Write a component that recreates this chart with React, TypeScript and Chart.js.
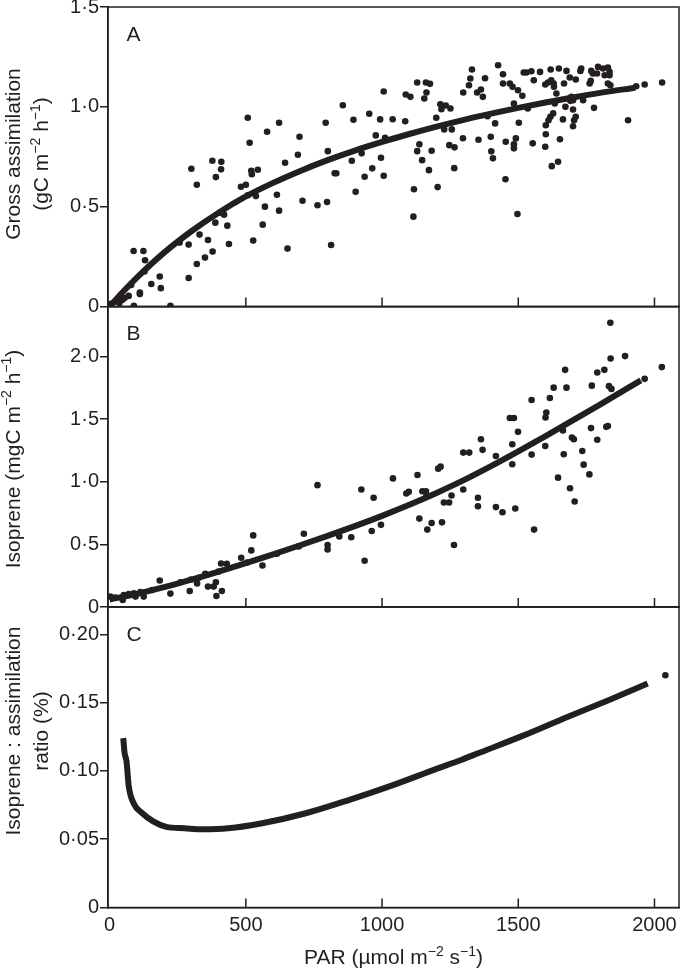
import React, { useEffect, useRef } from 'react';
import { Chart, registerables } from 'chart.js';

Chart.register(...registerables);

// ---------- tick values ----------
const parTicks = [0, 500, 1000, 1500, 2000];
const assimTicks = [0, 0.5, 1.0, 1.5];
const isoTicks = [0, 0.5, 1.0, 1.5, 2.0];
const ratioTicks = [0, 0.05, 0.1, 0.15, 0.2];

// ---------- panel A: gross assimilation (scatter) ----------
const assimPAR = [
  3, 22, 36, 46, 55, 70, 79, 89, 111, 111, 124, 88, 130, 128, 153, 184, 188, 223, 257, 290,
  290, 300, 320, 320, 330, 350, 361, 377, 378, 388, 390, 405, 409, 410, 420, 432, 438, 482, 500, 507,
  507, 514, 520, 522, 527, 537, 544, 562, 570, 578, 614, 622, 622, 644, 653, 691, 697, 708, 763, 793,
  798, 801, 813, 826, 832, 856, 889, 895, 903, 925, 936, 953, 964, 977, 993, 996, 1006, 1006, 1011, 1039,
  1085, 1087, 1104, 1115, 1117, 1129, 1129, 1137, 1147, 1155, 1161, 1163, 1172, 1176, 1182, 1199, 1204, 1214, 1218, 1228,
  1234, 1247, 1251, 1256, 1265, 1266, 1297, 1298, 1319, 1324, 1330, 1349, 1354, 1363, 1370, 1378, 1387, 1399, 1401, 1407,
  1415, 1426, 1444, 1444, 1453, 1454, 1469, 1479, 1484, 1484, 1484, 1491, 1497, 1499, 1502, 1515, 1520, 1530, 1535, 1548,
  1553, 1557, 1580, 1599, 1599, 1601, 1601, 1609, 1611, 1618, 1619, 1621, 1623, 1628, 1630, 1631, 1634, 1640, 1646, 1649,
  1653, 1664, 1668, 1673, 1677, 1689, 1691, 1695, 1701, 1701, 1701, 1705, 1711, 1711, 1728, 1731, 1738, 1762, 1766, 1768,
  1774, 1778, 1789, 1793, 1811, 1817, 1829, 1829, 1835, 1835, 1838, 1903, 1933, 1964, 2028,
];
const assimValues = [
  0.013, 0.025, 0.017, 0.033, 0.042, 0.053, 0.108, 0.004, 0.07, 0.062, 0.278, 0.278, 0.232, 0.175, 0.113, 0.15, 0.092, 0.004, 0.32, 0.31,
  0.143, 0.69, 0.61, 0.213, 0.36, 0.245, 0.333, 0.73, 0.275, 0.42, 0.648, 0.47, 0.687, 0.725, 0.46, 0.405, 0.313, 0.6, 0.61, 0.945,
  0.557, 0.82, 0.68, 0.662, 0.33, 0.553, 0.685, 0.41, 0.5, 0.875, 0.56, 0.92, 0.48, 0.72, 0.29, 0.76, 0.85, 0.53, 0.507, 0.92,
  0.523, 0.778, 0.308, 0.667, 0.667, 1.008, 0.73, 0.935, 0.575, 0.767, 0.65, 0.965, 0.692, 0.857, 0.937, 0.745, 1.077, 0.655, 0.845, 0.938,
  0.928, 1.062, 1.05, 0.45, 0.587, 1.122, 0.778, 0.812, 0.733, 1.042, 1.122, 1.072, 0.683, 1.115, 0.78, 0.945, 0.598, 1.013, 0.988, 0.887,
  1.007, 0.808, 0.992, 0.887, 0.693, 0.797, 0.843, 1.072, 1.108, 1.142, 1.187, 1.072, 0.835, 1.087, 1.05, 1.143, 0.953, 0.85, 0.777, 0.742,
  0.917, 1.208, 1.163, 1.117, 0.637, 0.825, 1.117, 1.1, 1.017, 0.812, 0.792, 0.842, 0.463, 1.083, 0.92, 1.055, 1.172, 1.172, 0.992, 1.178,
  0.817, 1.133, 1.175, 1.112, 0.8, 0.908, 0.863, 1.122, 0.933, 0.95, 1.187, 1.133, 0.703, 0.967, 1.117, 1.1, 1.017, 1.067, 0.725, 1.192,
  0.838, 0.937, 1.117, 1.0, 1.18, 1.147, 1.03, 1.05, 1.033, 0.987, 0.903, 0.933, 1.137, 0.95, 1.18, 1.192, 1.033, 1.117, 1.13, 1.18,
  1.167, 0.995, 1.167, 1.2, 1.192, 1.158, 1.197, 1.117, 1.175, 1.158, 1.108, 0.933, 1.103, 1.112, 1.122,
];
// fitted curve
const assimFitPAR = [0, 50, 100, 200, 300, 400, 500, 600, 700, 800, 900, 1000, 1100, 1200, 1300, 1400, 1500, 1600, 1700, 1800, 1930];
const assimFitValues = [0, 0.075, 0.145, 0.27, 0.377, 0.47, 0.551, 0.619, 0.679, 0.733, 0.781, 0.824, 0.864, 0.901, 0.935, 0.966, 0.995, 1.022, 1.047, 1.07, 1.096];

// ---------- panel B: isoprene (scatter) ----------
const isoPAR = [
  3, 21, 48, 52, 70, 89, 95, 113, 125, 156, 184, 223, 260, 294, 299, 321, 327, 351, 361, 382,
  390, 392, 400, 409, 412, 430, 483, 504, 520, 527, 561, 614, 694, 713, 763, 800, 800, 843, 887, 924,
  936, 962, 969, 996, 1040, 1089, 1098, 1130, 1137, 1148, 1161, 1163, 1166, 1182, 1206, 1215, 1220, 1227, 1246, 1255,
  1264, 1298, 1298, 1320, 1352, 1352, 1363, 1369, 1418, 1418, 1442, 1469, 1484, 1478, 1478, 1489, 1499, 1549, 1549, 1558,
  1599, 1600, 1603, 1616, 1630, 1646, 1664, 1667, 1672, 1677, 1690, 1697, 1704, 1707, 1735, 1740, 1761, 1767, 1770, 1790,
  1790, 1816, 1823, 1829, 1833, 1842, 1839, 1892, 1838, 1964, 2027,
];
const isoValues = [
  0.083, 0.075, 0.056, 0.096, 0.104, 0.11, 0.083, 0.12, 0.083, 0.136, 0.212, 0.107, 0.197, 0.128, 0.22, 0.188, 0.233, 0.265, 0.163, 0.163,
  0.198, 0.088, 0.283, 0.348, 0.128, 0.345, 0.393, 0.356, 0.452, 0.572, 0.331, 0.425, 0.484, 0.585, 0.973, 0.495, 0.46, 0.564, 0.557, 0.939,
  0.369, 0.607, 0.872, 0.656, 1.027, 0.907, 0.92, 1.054, 0.706, 0.925, 0.925, 0.89, 0.618, 0.671, 1.105, 1.121, 0.676, 0.835, 0.835, 0.89,
  0.495, 0.939, 1.233, 1.233, 0.872, 0.805, 1.34, 1.255, 1.206, 0.798, 0.757, 1.509, 1.509, 1.3, 1.14, 0.787, 1.399, 1.653, 1.217, 0.618,
  1.286, 1.514, 1.554, 1.669, 1.752, 1.033, 1.41, 1.22, 1.894, 1.752, 0.949, 1.354, 1.34, 0.843, 1.246, 1.137, 1.059, 1.429, 1.768, 1.873,
  1.336, 1.894, 1.439, 1.445, 1.764, 1.742, 1.985, 2.004, 2.27, 1.822, 1.916,
];
const isoFitPAR = [0, 100, 200, 300, 400, 500, 600, 700, 800, 900, 1000, 1100, 1200, 1300, 1400, 1500, 1600, 1700, 1800, 1950];
const isoFitValues = [0.06, 0.105, 0.158, 0.218, 0.283, 0.351, 0.421, 0.493, 0.568, 0.646, 0.728, 0.816, 0.911, 1.013, 1.125, 1.243, 1.365, 1.49, 1.617, 1.81];

// ---------- panel C: isoprene : assimilation ratio ----------
const ratioFitPAR = [50, 55, 62, 70, 89, 120, 160, 208, 275, 340, 435, 560, 720, 880, 1040, 1200, 1290, 1360, 1520, 1680, 1840, 1975];
const ratioFitValues = [0.124, 0.113, 0.107, 0.089, 0.076, 0.069, 0.063, 0.059, 0.058, 0.0573, 0.058, 0.0617, 0.069, 0.0788, 0.0896, 0.1015, 0.108, 0.1135, 0.126, 0.1395, 0.1525, 0.164];
const ratioPointPAR = [2040];
const ratioPointValues = [0.17];

// ---------- styling ----------
const FONT = "'Liberation Sans', Arial, Helvetica, sans-serif";
const INK = '#231f20';
const W = 683;
const H = 972;
const X_MIN = -6;
const X_MAX = 2090;
const TITLE_BASE_X = [19.5, 48];
const xTitle = 'PAR (µmol m^{−2} s^{−1})';

type Seg = { t: string; sup?: boolean };
function parseRich(s: string): Seg[] {
  const out: Seg[] = [];
  const re = /\^\{([^}]*)\}/g;
  let last = 0;
  let m: RegExpExecArray | null;
  while ((m = re.exec(s))) {
    if (m.index > last) out.push({ t: s.slice(last, m.index) });
    out.push({ t: m[1], sup: true });
    last = re.lastIndex;
  }
  if (last < s.length) out.push({ t: s.slice(last) });
  return out;
}

function drawRich(ctx: CanvasRenderingContext2D, text: string, x: number, y: number, size: number, rotate: boolean) {
  const segs = parseRich(text);
  const supSize = Math.round(size * 0.68);
  ctx.save();
  ctx.translate(x, y);
  if (rotate) ctx.rotate(-Math.PI / 2);
  ctx.textAlign = 'left';
  ctx.textBaseline = 'alphabetic';
  ctx.fillStyle = INK;
  let total = 0;
  const widths = segs.map((s) => {
    ctx.font = `${s.sup ? supSize : size}px ${FONT}`;
    const w = ctx.measureText(s.t).width;
    total += w;
    return w;
  });
  let cx = -total / 2;
  segs.forEach((s, i) => {
    ctx.font = `${s.sup ? supSize : size}px ${FONT}`;
    ctx.fillText(s.t, cx, s.sup ? -size * 0.4 : 0);
    cx += widths[i];
  });
  ctx.restore();
}

function fmt(v: number, d: number) {
  if (Math.abs(v) < 1e-9) return '0';
  return v.toFixed(d).replace('.', '·');
}

type PanelDef = {
  key: string;
  letter: string;
  px: number[];
  py: number[];
  fx: number[];
  fy: number[];
  ex?: number[];
  ey?: number[];
  yMax: number;
  yTicks: number[];
  dec: number;
  titles: string[];
  titleY: number;
  top: number;
  bottom: number;
  showX: boolean;
};

const panels: PanelDef[] = [
  {
    key: 'A', letter: 'A', px: assimPAR, py: assimValues, fx: assimFitPAR, fy: assimFitValues,
    yMax: 1.5, yTicks: assimTicks, dec: 1,
    titles: ['Gross assimilation', '(gC m^{−2} h^{−1})'], titleY: 154,
    top: 7, bottom: 306.5, showX: false,
  },
  {
    key: 'B', letter: 'B', px: isoPAR, py: isoValues, fx: isoFitPAR, fy: isoFitValues,
    yMax: 2.4, yTicks: isoTicks, dec: 1,
    titles: ['Isoprene (mgC m^{−2} h^{−1})'], titleY: 459,
    top: 306.5, bottom: 607, showX: false,
  },
  {
    key: 'C', letter: 'C', px: [], py: [], fx: ratioFitPAR, fy: ratioFitValues,
    ex: ratioPointPAR, ey: ratioPointValues,
    yMax: 0.22, yTicks: ratioTicks, dec: 2,
    titles: ['Isoprene : assimilation', 'ratio (%)'], titleY: 731,
    top: 607, bottom: 907.5, showX: true,
  },
];

function makeConfig(p: PanelDef): any {
  const pts = (xs: number[], ys: number[]) => xs.map((x, i) => ({ x, y: ys[i] }));
  const datasets: any[] = [
    {
      data: pts(p.fx, p.fy),
      showLine: true,
      borderColor: INK,
      borderWidth: 6,
      pointRadius: 0,
      cubicInterpolationMode: 'monotone',
      fill: false,
    },
  ];
  if (p.px.length) {
    datasets.push({
      data: pts(p.px, p.py),
      showLine: false,
      pointRadius: 3.3,
      pointBorderWidth: 0,
      pointBackgroundColor: INK,
      backgroundColor: INK,
    });
  }
  if (p.ex) {
    datasets.push({
      data: pts(p.ex, p.ey!),
      showLine: false,
      pointRadius: 3.3,
      pointBorderWidth: 0,
      pointBackgroundColor: INK,
      backgroundColor: INK,
    });
  }

  const decor = {
    id: 'panelDecor' + p.key,
    afterDraw(chart: any) {
      const { ctx, chartArea: a, scales } = chart;
      ctx.save();
      ctx.strokeStyle = INK;
      ctx.lineWidth = 1.5;
      ctx.strokeRect(a.left, a.top, a.right - a.left, a.bottom - a.top);
      const xs = scales.x;
      ctx.beginPath();
      parTicks.forEach((v) => {
        if (v === 0) return;
        const x = xs.getPixelForValue(v);
        ctx.moveTo(x, a.bottom);
        ctx.lineTo(x, a.bottom - 9);
      });
      ctx.stroke();
      ctx.fillStyle = INK;
      ctx.font = `21px ${FONT}`;
      ctx.textAlign = 'left';
      ctx.textBaseline = 'alphabetic';
      ctx.fillText(p.letter, a.left + 18.5, a.top + 33.5);
      p.titles.forEach((t, i) => drawRich(ctx, t, TITLE_BASE_X[i], p.titleY, 21, true));
      if (p.showX) drawRich(ctx, xTitle, (a.left + a.right) / 2, 964, 21, false);
      ctx.restore();
    },
  };

  return {
    type: 'scatter',
    data: { datasets },
    plugins: [decor],
    options: {
      responsive: false,
      animation: false,
      events: [],
      layout: { padding: { top: p.top, bottom: p.showX ? 0 : H - p.bottom, left: 0, right: 1 } },
      plugins: { legend: { display: false }, tooltip: { enabled: false } },
      scales: {
        x: {
          type: 'linear',
          min: X_MIN,
          max: X_MAX,
          afterBuildTicks: (s: any) => {
            s.ticks = parTicks.map((v) => ({ value: v }));
          },
          afterFit: (s: any) => {
            s.height = p.showX ? H - p.bottom : 0;
            s.paddingLeft = 0;
            s.paddingRight = 0;
          },
          ticks: {
            display: p.showX,
            font: { family: FONT, size: 20 },
            color: INK,
            padding: 6,
            maxRotation: 0,
            autoSkip: false,
            callback: (v: any) => String(v),
          },
          grid: { display: true, drawOnChartArea: false, drawTicks: false },
          border: { display: true, color: INK, width: 1.5 },
        },
        y: {
          type: 'linear',
          min: 0,
          max: p.yMax,
          afterBuildTicks: (s: any) => {
            s.ticks = p.yTicks.map((v) => ({ value: v }));
          },
          afterFit: (s: any) => {
            s.width = 108;
            s.paddingTop = 0;
            s.paddingBottom = 0;
          },
          ticks: {
            font: { family: FONT, size: 20 },
            color: INK,
            padding: 1,
            callback: (v: any) => fmt(Number(v), p.dec),
          },
          grid: { display: true, drawOnChartArea: false, drawTicks: true, tickLength: 8, color: INK, lineWidth: 1.5 },
          border: { display: true, color: INK, width: 1.5 },
        },
      },
    },
  };
}

function Panel({ p }: { p: PanelDef }) {
  const ref = useRef<HTMLCanvasElement | null>(null);
  useEffect(() => {
    if (!ref.current) return;
    const chart = new Chart(ref.current, makeConfig(p));
    return () => chart.destroy();
  }, [p]);
  return (
    <canvas
      ref={ref}
      width={W}
      height={H}
      style={{ position: 'absolute', left: 0, top: 0, width: W, height: H }}
    />
  );
}

export default function App() {
  return (
    <div style={{ position: 'absolute', left: 0, top: 0, width: W, height: H, background: '#fff', overflow: 'hidden' }}>
      {panels.map((p) => (
        <Panel key={p.key} p={p} />
      ))}
    </div>
  );
}
